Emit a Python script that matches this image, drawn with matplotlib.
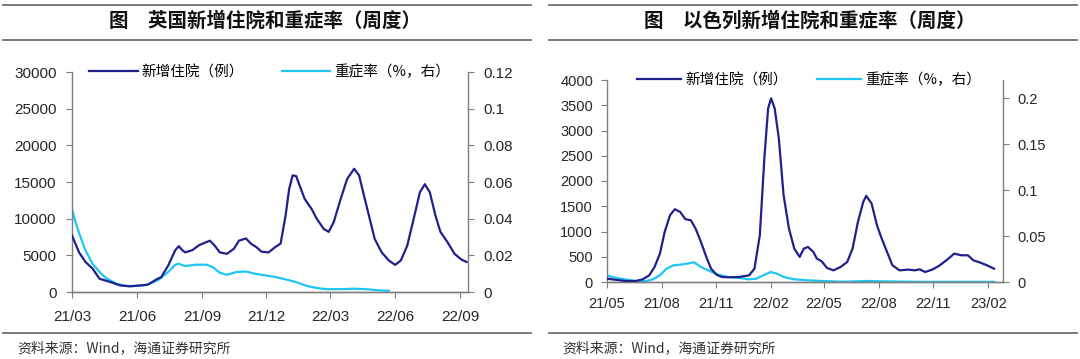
"""UK / Israel weekly new hospitalisations and severe-case rate, two dual-axis panels."""

import matplotlib
matplotlib.use("Agg")
import matplotlib.pyplot as plt
import matplotlib.dates as mdates
from matplotlib.lines import Line2D
import pandas as pd

plt.rcParams["font.family"] = ["Liberation Sans", "Noto Sans CJK SC", "DejaVu Sans"]
CJK = ["Noto Sans CJK SC", "DejaVu Sans"]

DARK = "#20208c"
LIGHT = "#1fc6f4"
GREY = "#7f7f7f"

# ---- UK ----
uk_hosp_dates = ["2021-03-01", "2021-03-11", "2021-03-20", "2021-03-30", "2021-04-09", "2021-04-23",
                 "2021-05-08", "2021-05-22", "2021-06-06", "2021-06-16", "2021-06-30", "2021-07-05",
                 "2021-07-15", "2021-07-25", "2021-07-30", "2021-08-04", "2021-08-08", "2021-08-18",
                 "2021-08-28", "2021-09-07", "2021-09-12", "2021-09-19", "2021-09-26", "2021-10-06",
                 "2021-10-16", "2021-10-23", "2021-11-02", "2021-11-09", "2021-11-17", "2021-11-24",
                 "2021-12-04", "2021-12-13", "2021-12-21", "2021-12-28", "2022-01-02", "2022-01-07",
                 "2022-01-12", "2022-01-17", "2022-01-24", "2022-02-03", "2022-02-10", "2022-02-20",
                 "2022-02-27", "2022-03-06", "2022-03-16", "2022-03-25", "2022-04-04", "2022-04-11",
                 "2022-04-18", "2022-04-26", "2022-05-03", "2022-05-13", "2022-05-23", "2022-06-01",
                 "2022-06-09", "2022-06-18", "2022-06-26", "2022-07-06", "2022-07-13", "2022-07-20",
                 "2022-07-28", "2022-08-04", "2022-08-14", "2022-08-24", "2022-09-03", "2022-09-10"]
uk_hosp = [7700, 5400, 4100, 3200, 1800, 1400, 900, 770, 900, 1000, 1800, 2000,
           3600, 5700, 6250, 5700, 5400, 5700, 6400, 6800, 7000, 6300, 5400, 5200,
           5900, 7000, 7300, 6600, 6100, 5500, 5400, 6100, 6600, 10400, 14000, 15900,
           15800, 14500, 12700, 11300, 10000, 8600, 8200, 9500, 12700, 15400, 16800, 15900,
           13100, 10000, 7250, 5400, 4300, 3700, 4300, 6300, 9500, 13600, 14700, 13600,
           10400, 8200, 6800, 5200, 4400, 4100]

uk_sev_dates = ["2021-03-01", "2021-03-06", "2021-03-13", "2021-03-20", "2021-03-30", "2021-04-09",
                "2021-04-18", "2021-05-03", "2021-05-17", "2021-06-01", "2021-06-16", "2021-06-30",
                "2021-07-15", "2021-07-25", "2021-07-30", "2021-08-08", "2021-08-23", "2021-09-07",
                "2021-09-16", "2021-09-26", "2021-10-06", "2021-10-20", "2021-11-02", "2021-11-14",
                "2021-11-29", "2021-12-13", "2021-12-28", "2022-01-12", "2022-01-27", "2022-02-10",
                "2022-02-24", "2022-03-21", "2022-04-04", "2022-04-23", "2022-05-08", "2022-05-23"]
uk_sev = [0.0453, 0.038, 0.030, 0.0227, 0.0154, 0.0109, 0.0076, 0.0045, 0.0033, 0.0033, 0.004, 0.0063,
          0.0109, 0.0149, 0.0154, 0.0141, 0.0149, 0.0149, 0.0136, 0.0105, 0.0094, 0.0109, 0.0112, 0.010,
          0.0091, 0.0082, 0.0069, 0.0054, 0.0033, 0.0022, 0.0015, 0.0016, 0.0018, 0.0015, 0.0009, 0.0007]

# ---- Israel ----
il_hosp_dates = ["2021-05-01", "2021-05-14", "2021-05-31", "2021-06-18", "2021-06-30", "2021-07-11",
                 "2021-07-20", "2021-07-29", "2021-08-06", "2021-08-15", "2021-08-23", "2021-09-01",
                 "2021-09-10", "2021-09-19", "2021-09-27", "2021-10-06", "2021-10-15", "2021-10-23",
                 "2021-11-01", "2021-11-10", "2021-11-21", "2021-12-09", "2021-12-26", "2022-01-04",
                 "2022-01-13", "2022-01-21", "2022-01-27", "2022-02-01", "2022-02-07", "2022-02-14",
                 "2022-02-22", "2022-03-03", "2022-03-12", "2022-03-21", "2022-03-28", "2022-04-04",
                 "2022-04-13", "2022-04-19", "2022-04-27", "2022-05-06", "2022-05-17", "2022-05-29",
                 "2022-06-09", "2022-06-18", "2022-06-27", "2022-07-06", "2022-07-11", "2022-07-20",
                 "2022-07-29", "2022-08-06", "2022-08-15", "2022-08-24", "2022-09-05", "2022-09-19",
                 "2022-10-01", "2022-10-09", "2022-10-18", "2022-10-30", "2022-11-10", "2022-11-25",
                 "2022-12-06", "2022-12-18", "2022-12-29", "2023-01-07", "2023-01-19", "2023-01-30",
                 "2023-02-11"]
il_hosp = [66, 46, 20, 20, 53, 132, 298, 562, 992, 1322, 1441, 1388,
           1243, 1223, 1058, 793, 496, 264, 145, 99, 93, 99, 132, 264,
           926, 2512, 3438, 3636, 3438, 2843, 1719, 1058, 661, 496, 661, 694,
           595, 463, 410, 278, 231, 298, 397, 661, 1190, 1587, 1706, 1554,
           1124, 860, 595, 331, 231, 245, 231, 251, 198, 245, 317, 450,
           562, 529, 529, 430, 383, 331, 264]

il_sev_dates = ["2021-05-01", "2021-05-14", "2021-05-31", "2021-06-18", "2021-07-06", "2021-07-17",
                "2021-07-29", "2021-08-09", "2021-08-21", "2021-09-01", "2021-09-13", "2021-09-24",
                "2021-10-06", "2021-10-18", "2021-11-04", "2021-11-21", "2021-12-09", "2021-12-26",
                "2022-01-07", "2022-01-19", "2022-01-31", "2022-02-11", "2022-02-22", "2022-03-12",
                "2022-04-04", "2022-04-27", "2022-06-01", "2022-07-11", "2022-08-09", "2022-10-07",
                "2022-12-03", "2023-02-11"]
il_sev = [0.0073, 0.0047, 0.0029, 0.0011, 0.0011, 0.0029, 0.0073, 0.0145, 0.0182, 0.0189, 0.020, 0.0215,
          0.0164, 0.0127, 0.008, 0.0055, 0.0044, 0.0029, 0.0036, 0.0073, 0.0109, 0.0091, 0.0055, 0.0029,
          0.0018, 0.0011, 0.0003, 0.0011, 0.0007, 0.0002, 0.0002, 0.0002]

titles = ["图\u3000英国新增住院和重症率（周度）", "图\u3000以色列新增住院和重症率（周度）"]
legend_labels = ["新增住院（例）", "重症率（%，右）"]
source = "资料来源：Wind，海通证券研究所"


def style_axes(ax, ax2, fs, pad_x, pad_y):
    for a in (ax, ax2):
        for s in a.spines.values():
            s.set_color(GREY)
            s.set_linewidth(1.0)
        a.spines["top"].set_visible(False)
    ax.spines["right"].set_visible(False)
    ax2.spines["left"].set_visible(False)
    ax.tick_params(axis="y", direction="out", length=4, color=GREY, labelsize=fs,
                   labelcolor="#262626", pad=pad_y)
    ax.tick_params(axis="x", direction="out", length=4, color=GREY, labelsize=fs,
                   labelcolor="#262626", pad=pad_x)
    ax2.tick_params(axis="y", direction="out", length=4, color=GREY, labelsize=fs,
                    labelcolor="#262626", pad=pad_y)


fig = plt.figure(figsize=(10.8, 3.59), dpi=100)

# ---- left panel: UK ----
ax = fig.add_axes([72 / 1080, 1 - 292 / 359, 396 / 1080, 220 / 359])
ax2 = ax.twinx()
l1, = ax.plot(pd.to_datetime(uk_hosp_dates), uk_hosp, color=DARK, lw=1.6, zorder=3)
l2, = ax2.plot(pd.to_datetime(uk_sev_dates), uk_sev, color=LIGHT, lw=1.6)
ax.set_zorder(ax2.get_zorder() + 1)
ax.patch.set_visible(False)
ax.set_ylim(0, 30000)
ax.set_yticks(range(0, 30001, 5000))
ax2.set_ylim(0, 0.12)
ax2.set_yticks([0, 0.02, 0.04, 0.06, 0.08, 0.1, 0.12])
ax2.set_yticklabels(["0", "0.02", "0.04", "0.06", "0.08", "0.1", "0.12"])
ax.set_xlim(pd.Timestamp("2021-03-01"), pd.Timestamp("2022-09-12"))
ax.xaxis.set_major_locator(mdates.MonthLocator(bymonth=[3, 6, 9, 12]))
ax.xaxis.set_major_formatter(mdates.DateFormatter("%y/%m"))
style_axes(ax, ax2, 11, 9, 7)
ax.legend([l1, l2], legend_labels, loc="center", bbox_to_anchor=(0.50, 1.0), ncol=2,
          frameon=False, handlelength=3.3, columnspacing=2.6, handletextpad=0.3,
          prop={"family": CJK, "size": 10.5})

# ---- right panel: Israel ----
bx = fig.add_axes([607 / 1080, 1 - 282 / 359, 396 / 1080, 202 / 359])
bx2 = bx.twinx()
m1, = bx.plot(pd.to_datetime(il_hosp_dates), il_hosp, color=DARK, lw=1.6, zorder=3)
m2, = bx2.plot(pd.to_datetime(il_sev_dates), il_sev, color=LIGHT, lw=1.6)
bx.set_zorder(bx2.get_zorder() + 1)
bx.patch.set_visible(False)
bx.set_ylim(0, 4000)
bx.set_yticks(range(0, 4001, 500))
bx2.set_ylim(0, 0.22)
bx2.set_yticks([0, 0.05, 0.1, 0.15, 0.2])
bx2.set_yticklabels(["0", "0.05", "0.1", "0.15", "0.2"])
bx.set_xlim(pd.Timestamp("2021-05-01"), pd.Timestamp("2023-02-26"))
bx.xaxis.set_major_locator(mdates.MonthLocator(bymonth=[2, 5, 8, 11]))
bx.xaxis.set_major_formatter(mdates.DateFormatter("%y/%m"))
style_axes(bx, bx2, 10.5, 7, 6)
bx.legend([m1, m2], legend_labels, loc="center", bbox_to_anchor=(0.51, 1.0), ncol=2,
          frameon=False, handlelength=3.0, columnspacing=2.0, handletextpad=0.3,
          prop={"family": CJK, "size": 10.5})

# ---- titles, rules, source ----
for x0, x1, xc, xs, title in [(3, 531, 265, 17, titles[0]), (549, 1077, 810, 562, titles[1])]:
    for yy in (4.5, 39.5, 333):
        fig.add_artist(Line2D([x0 / 1080, x1 / 1080], [1 - yy / 359, 1 - yy / 359],
                              transform=fig.transFigure, color="#6e6e6e", lw=1.3))
    fig.text(xc / 1080, 1 - 21 / 359, title, ha="center", va="center", fontsize=14,
             fontweight="bold", family=CJK, color="#111111")
    fig.text(xs / 1080, 1 - 348 / 359, source, ha="left", va="center", fontsize=10,
             family=CJK, color="#333333")

fig.savefig("out.png", dpi=100)
